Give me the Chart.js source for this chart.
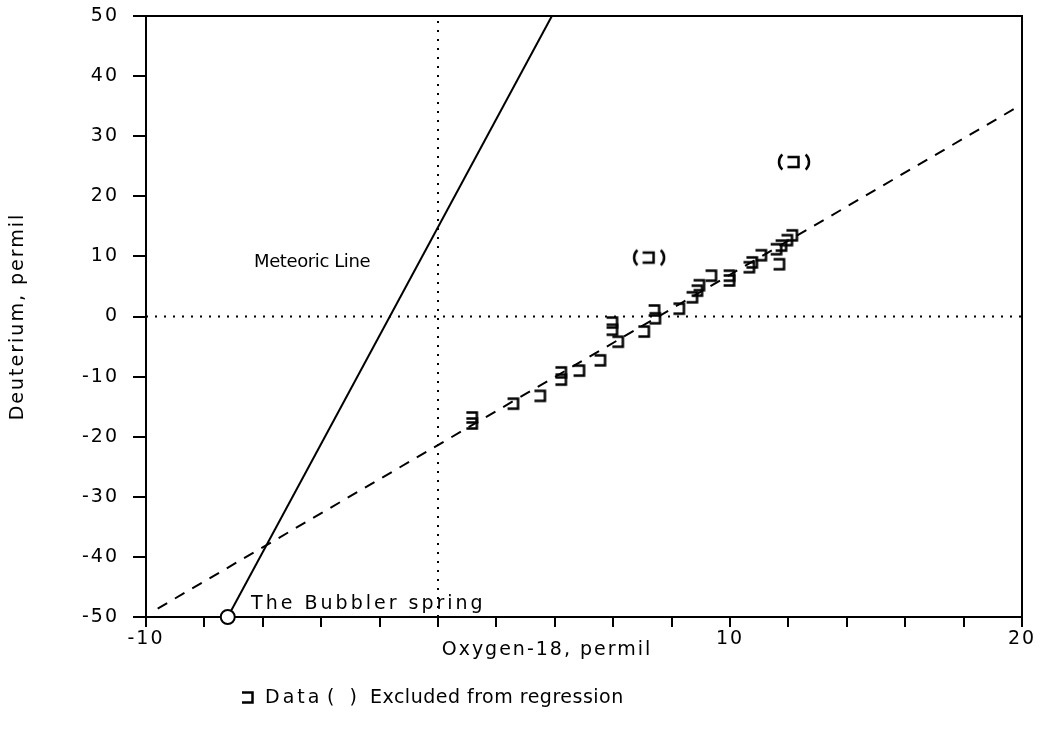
<!DOCTYPE html>
<html>
<head>
<meta charset="utf-8">
<script src="https://cdn.jsdelivr.net/npm/chart.js@4/dist/chart.umd.min.js"></script>
<style>
  html, body { margin: 0; padding: 0; background: #fff; }
  #wrap { width: 1048px; height: 743px; }
</style>
</head>
<body>
<div id="wrap"><canvas id="c" width="1048" height="743"></canvas></div>
<script>
// Isotope samples (permil)
const oxygen18  = [1.16, 1.16, 2.57, 3.49, 4.21, 4.21, 4.83, 5.55, 5.96, 5.96, 6.16, 7.05, 7.40, 7.43, 8.25,
                   8.70, 8.87, 8.94, 9.35, 9.97, 9.97, 10.65, 10.75, 11.06, 11.68, 11.58, 11.75, 11.95, 12.12];
const deuterium = [-16.8, -17.8, -14.5, -13.2, -9.3, -10.5, -9.0, -7.3, -1.0, -2.2, -4.2, -2.5, 1.0, -0.3, 1.3,
                   3.2, 4.3, 5.2, 6.8, 6.8, 6.0, 8.2, 9.0, 10.2, 8.7, 11.2, 11.8, 12.7, 13.5];
// Samples left out of the fit
const excludedOxygen18  = [7.23, 12.19];
const excludedDeuterium = [9.8, 25.7];
// Line end points
const meteoricX   = [-7.2, 3.9];
const meteoricY   = [-50, 50];
const regressionX = [-9.6, 20];
const regressionY = [-48.6, 35.3];
// The Bubbler spring
const springX = [-7.2];
const springY = [-50];
// Axis ranges and labelled ticks
const xRange = [-10, 20];
const yRange = [-50, 50];
const xLabelled = [-10, 10, 20];

const FONT = 'DejaVu Sans';
const SIZE = 19;
const SPACING = '2px';

function pts(xs, ys) { return xs.map((x, i) => ({ x: x, y: ys[i] })); }

// open-left square marker
function bracketMark() {
  const c = document.createElement('canvas');
  c.width = 15; c.height = 15;
  const g = c.getContext('2d');
  g.strokeStyle = '#000'; g.lineWidth = 2.5;
  g.beginPath();
  g.moveTo(2, 2.5); g.lineTo(12.5, 2.5); g.lineTo(12.5, 12.5); g.lineTo(2, 12.5);
  g.stroke();
  return c;
}
// the same marker wrapped in parentheses
function excludedMark() {
  const c = document.createElement('canvas');
  c.width = 36; c.height = 24;
  const g = c.getContext('2d');
  g.strokeStyle = '#000'; g.lineWidth = 2.5;
  g.beginPath(); g.arc(13, 12, 10, Math.PI * 0.73, Math.PI * 1.27); g.stroke();
  g.beginPath(); g.arc(23, 12, 10, -Math.PI * 0.27, Math.PI * 0.27); g.stroke();
  g.beginPath();
  g.moveTo(11.5, 7); g.lineTo(22.5, 7); g.lineTo(22.5, 17); g.lineTo(11.5, 17);
  g.stroke();
  return c;
}
const markData = bracketMark();
const markExcluded = excludedMark();

const spacing = {
  id: 'spacing',
  beforeUpdate(chart) { chart.ctx.letterSpacing = SPACING; },
  beforeDraw(chart) { chart.ctx.letterSpacing = SPACING; }
};

function text(ctx, str, x, y, size, gap, align) {
  ctx.font = size + 'px "' + FONT + '"';
  ctx.letterSpacing = gap;
  ctx.textAlign = align || 'left';
  ctx.fillText(str, x, y);
}

const frame = {
  id: 'frame',
  afterDraw(chart) {
    const { ctx, chartArea: a, scales } = chart;
    ctx.save();
    ctx.strokeStyle = '#000';
    ctx.lineWidth = 2;
    ctx.beginPath();
    ctx.moveTo(a.left, a.top); ctx.lineTo(a.right, a.top); ctx.lineTo(a.right, a.bottom);
    ctx.stroke();

    ctx.fillStyle = '#000';
    ctx.textBaseline = 'middle';
    text(ctx, 'Meteoric Line', scales.x.getPixelForValue(-6.3), scales.y.getPixelForValue(9.0), 18, '-0.4px');
    text(ctx, 'The Bubbler spring', scales.x.getPixelForValue(-6.4), scales.y.getPixelForValue(-47.8), 19, '3px');

    // x axis title
    text(ctx, 'Oxygen-18, permil', 547, 650, SIZE, SPACING, 'center');

    // legend
    const ly = 698;
    ctx.drawImage(markData, 240, ly - 8);
    text(ctx, 'Data', 265, ly, SIZE, '3px');
    text(ctx, '(  )', 327, ly, SIZE, '1px');
    text(ctx, 'Excluded from regression', 370, ly, SIZE, '0.5px');
    ctx.restore();
  }
};

new Chart(document.getElementById('c'), {
  type: 'scatter',
  data: {
    datasets: [
      { label: 'zero x', data: pts([0, 0], yRange), showLine: true, borderColor: '#000', borderWidth: 2,
        borderDash: [2, 7], pointRadius: 0, order: 5 },
      { label: 'zero y', data: pts(xRange, [0, 0]), showLine: true, borderColor: '#000', borderWidth: 2,
        borderDash: [2, 7], pointRadius: 0, order: 5 },
      { label: 'Meteoric Line', data: pts(meteoricX, meteoricY), showLine: true, borderColor: '#000',
        borderWidth: 2, pointRadius: 0, order: 4 },
      { label: 'Regression', data: pts(regressionX, regressionY), showLine: true, borderColor: '#000',
        borderWidth: 2, borderDash: [11, 9], pointRadius: 0, order: 4 },
      { label: 'Data', data: pts(oxygen18, deuterium), pointStyle: markData, pointRadius: 6, order: 1 },
      { label: 'Excluded from regression', data: pts(excludedOxygen18, excludedDeuterium),
        pointStyle: markExcluded, pointRadius: 8, order: 1 },
      { label: 'The Bubbler spring', data: pts(springX, springY), pointStyle: 'circle', pointRadius: 7,
        borderColor: '#000', backgroundColor: '#fff', borderWidth: 2, clip: false, order: 0 }
    ]
  },
  options: {
    responsive: false,
    animation: false,
    events: [],
    layout: { autoPadding: false, padding: { top: 16, right: 26, left: 0, bottom: 76 } },
    plugins: { legend: { display: false }, tooltip: { enabled: false } },
    scales: {
      x: {
        type: 'linear', min: xRange[0], max: xRange[1],
        afterFit(s) { s.height = 50; s.paddingLeft = 0; s.paddingRight = 0; },
        border: { color: '#000', width: 2 },
        grid: { drawOnChartArea: false, color: '#000', lineWidth: 2, tickLength: 10 },
        ticks: {
          stepSize: 2, color: '#000', padding: 1, maxRotation: 0, autoSkip: false,
          font: { family: FONT, size: SIZE },
          callback: v => (xLabelled.includes(v) ? String(v) : '')
        }
      },
      y: {
        type: 'linear', min: yRange[0], max: yRange[1],
        afterFit(s) { s.width = 146; s.paddingTop = 0; s.paddingBottom = 0; },
        border: { color: '#000', width: 2 },
        grid: { drawOnChartArea: false, color: '#000', lineWidth: 2, tickLength: 13 },
        ticks: { stepSize: 10, color: '#000', padding: 14, font: { family: FONT, size: SIZE } },
        title: { display: true, text: 'Deuterium, permil', color: '#000',
                 font: { family: FONT, size: SIZE }, padding: { top: 7, bottom: 0 } }
      }
    }
  },
  plugins: [spacing, frame]
});
</script>
</body>
</html>
